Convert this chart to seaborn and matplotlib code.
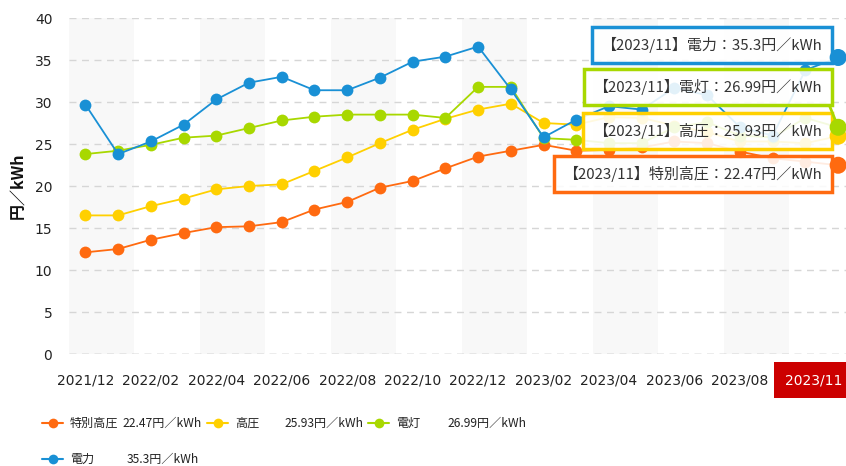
import pandas as pd
import matplotlib
matplotlib.use("Agg")
import matplotlib.pyplot as plt
import seaborn as sns
from matplotlib.lines import Line2D

# --- data ---
months = ["2021/12", "2022/01", "2022/02", "2022/03", "2022/04", "2022/05",
          "2022/06", "2022/07", "2022/08", "2022/09", "2022/10", "2022/11",
          "2022/12", "2023/01", "2023/02", "2023/03", "2023/04", "2023/05",
          "2023/06", "2023/07", "2023/08", "2023/09", "2023/10", "2023/11"]

tokubetsu_koatsu = [12.1, 12.5, 13.6, 14.4, 15.1, 15.2, 15.7, 17.2, 18.1, 19.8, 20.6, 22.1,
                    23.5, 24.2, 24.9, 24.2, 24.3, 24.6, 25.3, 25.1, 24.1, 23.3, 22.9, 22.47]
koatsu = [16.5, 16.5, 17.6, 18.5, 19.6, 20.0, 20.2, 21.8, 23.4, 25.1, 26.7, 28.0,
          29.1, 29.8, 27.5, 27.3, 28.2, 28.1, 27.2, 26.4, 25.3, 25.3, 25.1, 25.93]
dento = [23.8, 24.2, 24.9, 25.75, 26.0, 26.9, 27.8, 28.25, 28.5, 28.5, 28.5, 28.1,
         31.8, 31.8, 25.7, 25.5, 25.1, 25.1, 27.0, 27.6, 26.0, 25.8, 28.1, 26.99]
denryoku = [29.7, 23.8, 25.3, 27.3, 30.3, 32.3, 33.0, 31.4, 31.4, 32.9, 34.8, 35.4,
            36.6, 31.5, 25.8, 27.9, 29.5, 29.1, 31.7, 30.8, 27.0, 26.0, 33.8, 35.3]

series_names = ["特別高圧", "高圧", "電灯", "電力"]
series_values = [tokubetsu_koatsu, koatsu, dento, denryoku]
value_labels = ["22.47円／kWh", "25.93円／kWh", "26.99円／kWh", "35.3円／kWh"]
colors = ["#ff6a10", "#ffd000", "#a8d800", "#1990d5"]
tick_labels = months[0:21:2]
latest = months[-1]

rows = []
for name, vals in zip(series_names, series_values):
    for i, (m, v) in enumerate(zip(months, vals)):
        rows.append({"idx": i, "month": m, "series": name, "value": v})
df = pd.DataFrame(rows)

sns.set_theme(style="white")
plt.rcParams["font.family"] = ["DejaVu Sans", "Noto Sans CJK JP"]
cjk = ["Noto Sans CJK JP", "DejaVu Sans"]

W, H = 846, 466
fig = plt.figure(figsize=(W / 100, H / 100), dpi=100)
ax = fig.add_axes([69 / W, 1 - 354 / H, 1 - 69 / W, 336 / H])

n = len(months)
# alternating grey bands, two months wide
for s in range(0, n, 4):
    ax.axvspan(s - 0.5, s + 1.5, color="#f8f8f8", zorder=0, lw=0)
for y in range(5, 45, 5):
    ax.axhline(y, color="#d6d6d6", ls=(0, (5, 4)), lw=1, zorder=1)
ax.axhline(0, color="#a0a0a0", ls=(0, (5, 4)), lw=1, zorder=1)

sns.lineplot(data=df, x="idx", y="value", hue="series", palette=colors,
             marker="o", markersize=8.5, markeredgewidth=0, linewidth=1.3,
             legend=False, ax=ax, sort=False, zorder=3)

ax.set_xlim(-0.5, 23.24)
ax.set_ylim(0, 40)
ax.set_yticks(range(0, 45, 5))
ax.set_xticks(range(0, 21, 2))
ax.set_xticklabels(tick_labels)
ax.tick_params(axis="both", length=0, labelsize=10, colors="#222222")
ax.tick_params(axis="x", pad=14)
ax.tick_params(axis="y", pad=12)
for sp in ax.spines.values():
    sp.set_visible(False)
ax.set_xlabel("")
ax.set_ylabel("")
fig.text(18 / W, 1 - 186 / H, "円／kWh", rotation=90, ha="center", va="center",
         fontsize=11.5, fontweight="bold", family=cjk, color="#111111")

# highlighted latest month label
fig.text(814 / W, 1 - 380 / H, latest, ha="center", va="center", fontsize=10,
         color="white", bbox=dict(boxstyle="square,pad=0.8", fc="#cc0000", ec="none"))

# tooltips
tip_y = [174, 131, 87, 45]
for name, vals, c, ty in zip(series_names, series_values, colors, tip_y):
    v = vals[-1]
    ax.annotate(f"【{latest}】{name}：{v:g}円／kWh", xy=(n - 1, v), xycoords="data",
                xytext=(822 / W, 1 - ty / H), textcoords="figure fraction",
                ha="right", va="center", fontsize=10.8, family=cjk, color="#333333",
                bbox=dict(boxstyle="square,pad=0.65", fc=(1, 1, 1, 0.88), ec=c, lw=2.5),
                arrowprops=dict(arrowstyle="-", color=c, lw=2, shrinkA=0, shrinkB=0,
                                relpos=(1, 0.5)),
                zorder=5)

last = df[df["idx"] == n - 1]
sns.scatterplot(data=last, x="idx", y="value", hue="series", palette=colors,
                s=150, edgecolor="none", legend=False, ax=ax, zorder=6, clip_on=False)
ax.set_xlabel("")
ax.set_ylabel("")

# legend, drawn by hand
leg_items = [(42, 423, 122), (207, 423, 284), (368, 423, 447), (42, 459, 127)]
for (x0, yy, vstart), name, vlab, c in zip(leg_items, series_names, value_labels, colors):
    fy = 1 - yy / H
    fig.add_artist(Line2D([x0 / W, (x0 + 10.5) / W, (x0 + 21) / W], [fy, fy, fy],
                          transform=fig.transFigure, color=c, lw=1.5,
                          marker="o", markersize=7, markevery=[1], markeredgewidth=0))
    fig.text((x0 + 28) / W, fy, name, ha="left", va="center", fontsize=8.7,
             family=cjk, color="#222222")
    fig.text(vstart / W, fy, vlab, ha="left", va="center", fontsize=8.7,
             family=cjk, color="#222222")

fig.savefig("out.png", dpi=100)
